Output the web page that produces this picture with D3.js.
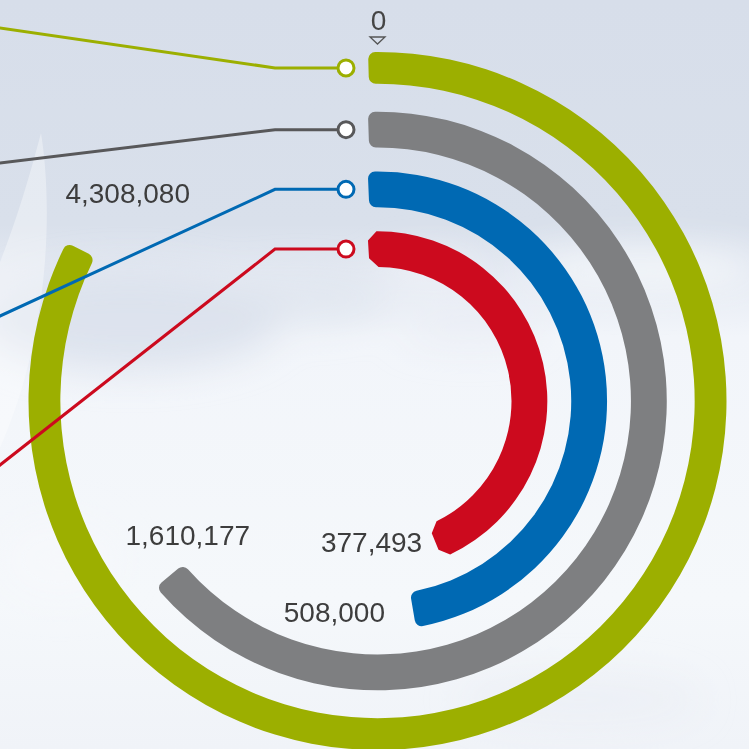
<!DOCTYPE html>
<html>
<head>
<meta charset="utf-8">
<title>Radial bars</title>
<script src="https://d3js.org/d3.v7.min.js"></script>
<style>
  html, body { margin: 0; padding: 0; width: 749px; height: 749px; overflow: hidden; background: #eef2f8; }
  svg { display: block; }
  text { font-family: "Liberation Sans", Arial, Helvetica, sans-serif; }
</style>
</head>
<body>
<svg id="chart" width="749" height="749"></svg>
<script>
// data
const categories = ["A", "B", "C", "D"];
const values = [4308080, 1610177, 508000, 377493];
const axisTicks = [0];

// styles / layout
const barColors = ["#9caf00", "#7e7f81", "#0069b3", "#cc0a1e"];
const lineColors = ["#9caf00", "#58585a", "#0069b3", "#cc0a1e"];
const innerTrim = [4, 0, 0, 0];
const leaderLeftY = [28, 163, 316, 465];
const labelOffset = [[47, -47, "middle"], [18, -31, "middle"], [-28, 12, "end"], [-13, 10, "end"]];

const W = 749, H = 749;
const cx = 377.5, cy = 401;

const svg = d3.select("#chart");
const defs = svg.append("defs");

// background
const bg = defs.append("linearGradient").attr("id", "sky").attr("x1", 0).attr("y1", 0).attr("x2", 0).attr("y2", 1);
[[0, "#d7deea"], [0.3, "#d9e0eb"], [0.36, "#e4e9f2"], [0.45, "#f2f5fa"], [0.8, "#f5f8fb"], [1, "#f0f3f8"]]
  .forEach(s => bg.append("stop").attr("offset", s[0]).attr("stop-color", s[1]));
defs.append("filter").attr("id", "blur").attr("x", "-50%").attr("y", "-50%").attr("width", "200%").attr("height", "200%")
  .append("feGaussianBlur").attr("stdDeviation", 18);

svg.append("rect").attr("width", W).attr("height", H).attr("fill", "url(#sky)");

const clouds = svg.append("g").attr("filter", "url(#blur)");
[[130, 320, 150, 50, "#dae1ec", 0.9], [300, 300, 90, 25, "#dce2ec", 0.6], [640, 270, 120, 22, "#f3f6fa", 0.9],
 [430, 270, 50, 14, "#f1f4f9", 0.8], [470, 330, 70, 16, "#e6eaf2", 0.5], [580, 700, 120, 25, "#eaedf4", 0.6],
 [60, 560, 60, 40, "#f6f8fb", 0.8]]
  .forEach(c => clouds.append("ellipse").attr("cx", c[0]).attr("cy", c[1]).attr("rx", c[2]).attr("ry", c[3])
    .attr("fill", c[4]).attr("opacity", c[5]));

svg.append("path")
  .attr("d", "M41,133 C52,200 52,330 0,448 L0,262 C16,222 30,175 41,133 Z")
  .attr("fill", "#ffffff").attr("opacity", 0.35);

// scales
const ring = d3.scaleBand().domain(categories).range([349, 134]).paddingInner(0.4);
const angle = d3.scalePow().exponent(0.26).domain([0, d3.max(values)]).range([0, 297 * Math.PI / 180]);

const rows = categories.map((c, i) => {
  const r0 = ring(c) + innerTrim[i];
  const r1 = ring(c) + ring.bandwidth();
  const rm = (r0 + r1) / 2;
  return { c, i, v: values[i], r0, r1, rm, a0: -9 / rm, a1: angle(values[i]) };
});

const pt = (r, a) => [r * Math.sin(a), -r * Math.cos(a)];

function chamferArc(d, k) {
  const p = d3.path();
  const h = Math.PI / 2;
  const s = pt(d.r1, d.a0 + k / d.r1);
  p.moveTo(s[0], s[1]);
  p.arc(0, 0, d.r1, d.a0 + k / d.r1 - h, d.a1 - k / d.r1 - h);
  p.lineTo(...pt(d.r1 - k, d.a1));
  p.lineTo(...pt(d.r0 + k, d.a1));
  p.lineTo(...pt(d.r0, d.a1 - k / d.r0));
  p.arc(0, 0, d.r0, d.a1 - k / d.r0 - h, d.a0 + k / d.r0 - h, true);
  p.lineTo(...pt(d.r0 + k, d.a0));
  p.lineTo(...pt(d.r1 - k, d.a0));
  p.closePath();
  return p.toString();
}

const arc = d3.arc()
  .innerRadius(d => d.r0).outerRadius(d => d.r1)
  .startAngle(d => d.a0).endAngle(d => d.a1)
  .cornerRadius(7);

const g = svg.append("g").attr("transform", `translate(${cx},${cy})`);

g.selectAll("path.bar")
  .data(rows)
  .join("path")
  .attr("class", "bar")
  .attr("d", d => d.i === 3 ? chamferArc(d, 9) : arc(d))
  .attr("fill", d => barColors[d.i]);

// zero tick
axisTicks.forEach(t => {
  const a = angle(t);
  const [x, y] = pt(ring.range()[0], a);
  g.append("text").attr("x", x + 1).attr("y", y - 22).attr("text-anchor", "middle")
    .attr("font-size", 28).attr("fill", "#454545").text(d3.format(",")(t));
  g.append("path")
    .attr("d", `M${x - 7.5},${y - 15} L${x + 7.5},${y - 15} L${x},${y - 8} Z`)
    .attr("fill", "none").attr("stroke", "#555").attr("stroke-width", 1.3);
});

// leader lines
const elbowX = 275 - cx;
g.selectAll("path.leader")
  .data(rows)
  .join("path")
  .attr("class", "leader")
  .attr("d", d => {
    const y = -d.rm, yl = leaderLeftY[d.i] - cy, xl = -cx;
    const slope = (yl - y) / (xl - elbowX);
    const xe = xl - 30;
    return `M${-31.5 - 8},${y} L${elbowX},${y} L${xe},${y + slope * (xe - elbowX)}`;
  })
  .attr("fill", "none")
  .attr("stroke", d => lineColors[d.i])
  .attr("stroke-width", 3);

g.selectAll("circle.dot")
  .data(rows)
  .join("circle")
  .attr("class", "dot")
  .attr("cx", -31.5)
  .attr("cy", d => -d.rm)
  .attr("r", 8)
  .attr("fill", "#ffffff")
  .attr("stroke", d => lineColors[d.i])
  .attr("stroke-width", 3);

// value labels at the end of each bar
g.selectAll("text.val")
  .data(rows)
  .join("text")
  .attr("class", "val")
  .attr("x", d => pt(d.rm, d.a1)[0] + labelOffset[d.i][0])
  .attr("y", d => pt(d.rm, d.a1)[1] + labelOffset[d.i][1])
  .attr("text-anchor", d => labelOffset[d.i][2])
  .attr("font-size", 28)
  .attr("fill", "#3d3d3d")
  .text(d => d3.format(",")(d.v));
</script>
</body>
</html>
